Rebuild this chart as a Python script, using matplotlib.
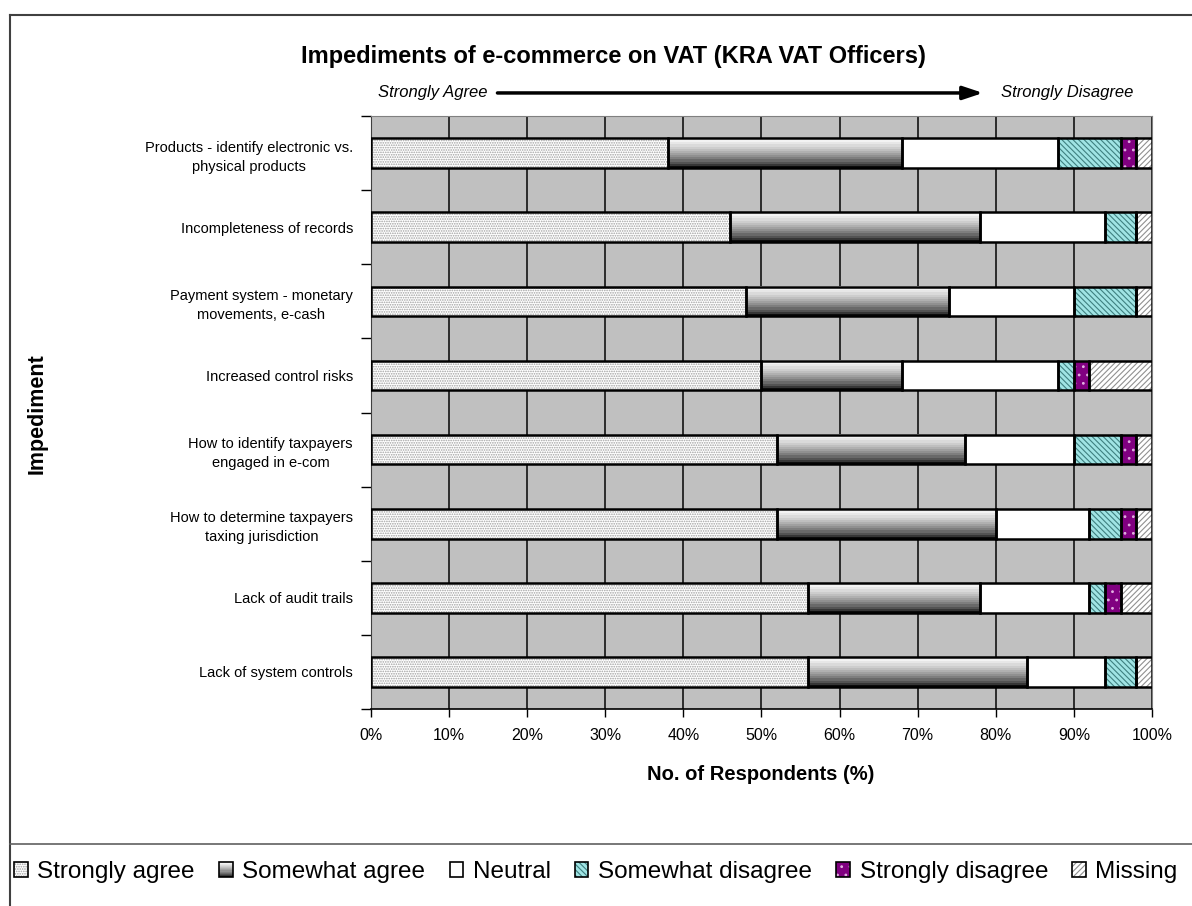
from matplotlib import pyplot as plt
from matplotlib.patches import Rectangle, Patch
from matplotlib.lines import Line2D
from matplotlib.legend_handler import HandlerBase
import numpy as np

plt.rcParams['font.family'] = ['Liberation Sans', 'DejaVu Sans']
plt.rcParams['hatch.linewidth'] = 0.8

# impediments, top to bottom
impediments = ['Products - identify electronic vs.\nphysical products',
               'Incompleteness of records',
               'Payment system - monetary\nmovements, e-cash',
               'Increased control risks',
               'How to identify taxpayers\nengaged in e-com',
               'How to determine taxpayers\ntaxing jurisdiction',
               'Lack of audit trails',
               'Lack of system controls']

# responses (% of respondents)
strongly_agree    = [38, 46, 48, 50, 52, 52, 56, 56]
somewhat_agree    = [30, 32, 26, 18, 24, 28, 22, 28]
neutral           = [20, 16, 16, 20, 14, 12, 14, 10]
somewhat_disagree = [8, 4, 8, 2, 6, 4, 2, 4]
strongly_disagree = [2, 0, 0, 2, 2, 2, 2, 0]
missing           = [2, 2, 2, 8, 2, 2, 4, 2]

series_names = ['Strongly agree', 'Somewhat agree', 'Neutral',
                'Somewhat disagree', 'Strongly disagree', 'Missing']
series = [strongly_agree, somewhat_agree, neutral,
          somewhat_disagree, strongly_disagree, missing]

# fill style per series: (face, hatch, hatch colour); None face = gradient
styles = [('white', '.......', '#a0a0a0'),
          (None, None, None),
          ('white', None, None),
          ('#a0e4e4', '\\\\\\\\\\\\', '#3f8080'),
          ('#800080', '..', '#e0b0e0'),
          ('white', '//////', '#909090')]

grad_vals = np.linspace(1.0, 0.0, 14) ** 0.6
grad_vals = np.clip(grad_vals, 0.05, 1.0)


def gradient_fill(ax, left, width, yc, h):
    img = grad_vals.reshape(-1, 1)
    ax.imshow(img, extent=(left, left + width, yc + h / 2, yc - h / 2),
              aspect='auto', cmap='gray', vmin=0, vmax=1,
              interpolation='nearest', zorder=3)


fig = plt.figure(figsize=(11.92, 9.06), dpi=100)
ax = fig.add_axes([0.3112, 0.2174, 0.6552, 0.6545])
ax.set_facecolor('#c0c0c0')

ypos = np.arange(len(impediments))
bar_h = 0.4
left = np.zeros(len(impediments))
for vals, (face, hatch, hcol) in zip(series, styles):
    vals = np.array(vals, dtype=float)
    if face is None:
        for y, l, v in zip(ypos, left, vals):
            if v > 0:
                gradient_fill(ax, l, v, y, bar_h)
    else:
        ax.barh(ypos, vals, height=bar_h, left=left, color=face,
                hatch=hatch, edgecolor=hcol if hcol else face,
                linewidth=0, zorder=3)
    ax.barh(ypos, vals, height=bar_h, left=left, fill=False,
            edgecolor='black', linewidth=1.8, zorder=4)
    left += vals

ax.set_xlim(0, 100)
ax.set_ylim(len(impediments) - 0.5, -0.5)
ax.set_xticks(np.arange(0, 101, 10))
ax.set_xticklabels([f'{v}%' for v in range(0, 101, 10)], fontsize=11.5)
ax.set_yticks(ypos)
ax.set_yticklabels(impediments, fontsize=10.5, multialignment='center',
                   linespacing=1.45)
ax.set_yticks(np.arange(-0.5, len(impediments)), minor=True)
ax.tick_params(axis='y', which='major', length=0, pad=13)
ax.tick_params(axis='y', which='minor', length=7, width=1, direction='out')
ax.tick_params(axis='x', length=6, width=1, direction='out', pad=8)

ax.grid(axis='x', color='#202020', linewidth=1.3, zorder=1)
ax.set_axisbelow(True)
for s in ['top', 'right']:
    ax.spines[s].set_color('#808080')
ax.spines['left'].set_color('#404040')
ax.spines['bottom'].set_color('black')
ax.spines['bottom'].set_linewidth(1.2)

# titles and axis labels
fig.text(0.515, 0.938, 'Impediments of e-commerce on VAT (KRA VAT Officers)',
         ha='center', va='center', fontsize=17, fontweight='bold')
fig.text(0.317, 0.8974, 'Strongly Agree', ha='left', va='center',
         fontsize=12, style='italic')
fig.text(0.8395, 0.8974, 'Strongly Disagree', ha='left', va='center',
         fontsize=12, style='italic')
ax.annotate('', xy=(0.827, 0.8974), xytext=(0.415, 0.8974),
            xycoords='figure fraction', textcoords='figure fraction',
            arrowprops=dict(arrowstyle='-|>,head_length=1.2,head_width=0.4',
                            color='black', lw=2.5))
fig.text(0.031, 0.544, 'Impediment', rotation=90, ha='center', va='center',
         fontsize=15.5, fontweight='bold')
fig.text(0.638, 0.1446, 'No. of Respondents (%)', ha='center', va='center',
         fontsize=14.5, fontweight='bold')

# frame and legend separator
fig.add_artist(Line2D([0.0084, 0.0084], [0, 0.9834], color='#404040', lw=1.5))
fig.add_artist(Line2D([0.0084, 1], [0.9834, 0.9834], color='#404040', lw=1.5))
fig.add_artist(Line2D([0.0084, 1], [0.0684, 0.0684], color='#606060', lw=1.2))


class GradientHandler(HandlerBase):
    def create_artists(self, legend, orig_handle, xdescent, ydescent,
                       width, height, fontsize, trans):
        arts = []
        n = len(grad_vals)
        for i, g in enumerate(grad_vals):
            y0 = -ydescent + height * (n - 1 - i) / n
            arts.append(Rectangle((-xdescent, y0), width, height / n,
                                  facecolor=str(g), edgecolor='none',
                                  transform=trans))
        arts.append(Rectangle((-xdescent, -ydescent), width, height,
                              fill=False, edgecolor='black', lw=1.2,
                              transform=trans))
        return arts


class HatchHandler(HandlerBase):
    def create_artists(self, legend, orig_handle, xdescent, ydescent,
                       width, height, fontsize, trans):
        face, hatch, hcol = orig_handle.style
        r1 = Rectangle((-xdescent, -ydescent), width, height, facecolor=face,
                       hatch=hatch, edgecolor=hcol if hcol else face, lw=0,
                       transform=trans)
        r2 = Rectangle((-xdescent, -ydescent), width, height, fill=False,
                       edgecolor='black', lw=1.2, transform=trans)
        return [r1, r2]


handles = []
handler_map = {}
for name, st in zip(series_names, styles):
    h = Patch(label=name)
    h.style = st
    handles.append(h)
    handler_map[h] = GradientHandler() if st[0] is None else HatchHandler()

fig.legend(handles=handles, loc='center left', bbox_to_anchor=(0.008, 0.0375),
           ncol=6, frameon=False, fontsize=17.5, handlelength=0.55,
           handleheight=0.55, handletextpad=0.4, columnspacing=1.0,
           borderaxespad=0.0, borderpad=0.2, handler_map=handler_map)

fig.savefig('out.png', dpi=100)
